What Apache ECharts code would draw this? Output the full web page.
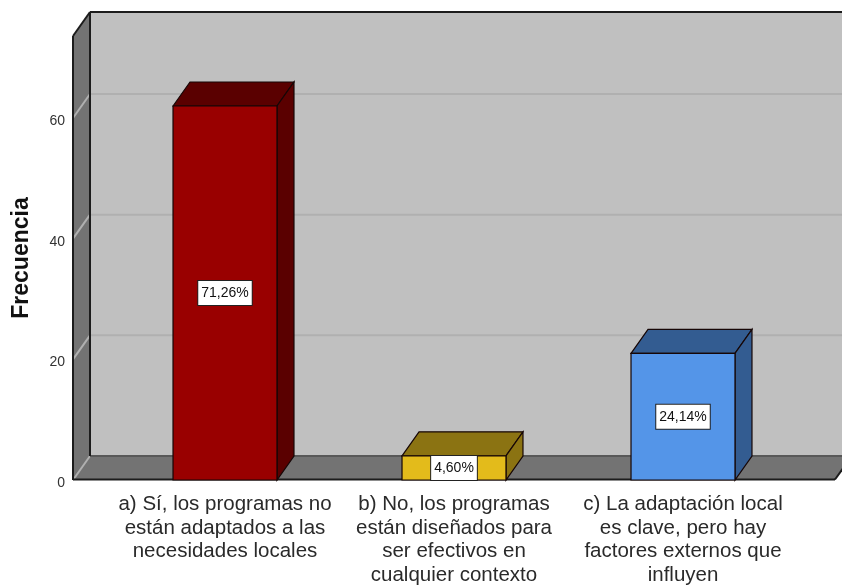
<!DOCTYPE html>
<html>
<head>
<meta charset="utf-8">
<style>html,body{margin:0;padding:0;background:#fff}#c{width:842px;height:586px}</style>
<script src="https://cdn.jsdelivr.net/npm/echarts@6/dist/echarts.min.js"></script>
</head>
<body>
<div id="c"></div>
<script>
const categories = [
  'a) Sí, los programas no\nestán adaptados a las\nnecesidades locales',
  'b) No, los programas\nestán diseñados para\nser efectivos en\ncualquier contexto',
  'c) La adaptación local\nes clave, pero hay\nfactores externos que\ninfluyen'
];
const frequencies = [62, 4, 21];
const percentLabels = ['71,26%', '4,60%', '24,14%'];
const yTicks = [0, 20, 40, 60];
const yMax = 73.6;
const frontColors = ['#990000', '#E3BB1B', '#5495E8'];
const darkColors = ['#5A0000', '#8B7312', '#335C91'];

const DX = 17, DY = -24, PAD = 37.5;
const FF = '"Liberation Sans", Arial, sans-serif';
const chart = echarts.init(document.getElementById('c'), null, {renderer: 'canvas'});

function wall(params, api) {
  const cs = params.coordSys;
  const l = cs.x - PAD, r = cs.x + cs.width + PAD, t = cs.y, b = cs.y + cs.height;
  return {type: 'group', silent: true, children: [
    {type: 'polygon', shape: {points: [[l + DX, t + DY], [r + DX, t + DY], [r + DX, b + DY], [l + DX, b + DY]]},
      style: {fill: '#C0C0C0', stroke: null}},
    {type: 'polygon', shape: {points: [[l, t], [l + DX, t + DY], [l + DX, b + DY], [l, b]]},
      style: {fill: '#737373', stroke: null}},
    {type: 'polygon', shape: {points: [[l, b], [l + DX, b + DY], [r + DX, b + DY], [r, b]]},
      style: {fill: '#737373', stroke: null}}
  ]};
}
function wallEdges(params, api) {
  const cs = params.coordSys;
  const l = cs.x - PAD, r = cs.x + cs.width + PAD, t = cs.y, b = cs.y + cs.height;
  const ink = {stroke: '#1c1c1c', lineWidth: 2, fill: null};
  const seg = (a, c, s) => ({type: 'line', shape: {x1: a[0], y1: a[1], x2: c[0], y2: c[1]}, style: s || ink});
  return {type: 'group', silent: true, children: [
    seg([l + DX, b + DY], [r + DX, b + DY], {stroke: '#585858', lineWidth: 2}),
    seg([l, b], [l, t]), seg([l, t], [l + DX, t + DY]), seg([l + DX, t + DY], [r + DX, t + DY]),
    seg([l + DX, t + DY], [l + DX, b + DY]), seg([l, b - 0.5], [r, b - 0.5]), seg([r, b - 0.5], [r + DX, b + DY])
  ]};
}
function gridLine(params, api) {
  const cs = params.coordSys;
  const l = cs.x - PAD, r = cs.x + cs.width + PAD;
  const y = api.coord([0, api.value(1)])[1];
  const s = {stroke: '#B0B0B0', lineWidth: 2, fill: null};
  return {type: 'group', silent: true, children: [
    {type: 'line', shape: {x1: l, y1: y, x2: l + DX, y2: y + DY}, style: s},
    {type: 'line', shape: {x1: l + DX, y1: y + DY, x2: r + DX, y2: y + DY}, style: s}
  ]};
}
function bar(params, api) {
  const i = api.value(0);
  const top = api.coord([i, api.value(1)]);
  const base = api.coord([i, 0]);
  const half = api.size([1, 0])[0] * 0.227;
  const x0 = top[0] - half, x1 = top[0] + half, y0 = top[1], y1 = base[1];
  const edge = {stroke: '#160606', lineWidth: 1.2};
  return {type: 'group', children: [
    {type: 'polygon', shape: {points: [[x0, y0], [x0 + DX, y0 + DY], [x1 + DX, y0 + DY], [x1, y0]]},
      style: Object.assign({fill: darkColors[i]}, edge)},
    {type: 'polygon', shape: {points: [[x1, y0], [x1 + DX, y0 + DY], [x1 + DX, y1 + DY], [x1, y1]]},
      style: Object.assign({fill: darkColors[i]}, edge)},
    {type: 'rect', shape: {x: x0, y: y0, width: x1 - x0, height: y1 - y0},
      style: Object.assign({fill: frontColors[i]}, edge)},
    {type: 'text', z2: 10, style: {
      x: top[0], y: (y0 + y1) / 2, text: percentLabels[i], align: 'center', verticalAlign: 'middle',
      fontFamily: FF, fontSize: 14, fill: '#111', backgroundColor: '#fff',
      borderColor: '#222', borderWidth: 1, padding: [5, 3, 5, 3]
    }}
  ]};
}

chart.setOption({
  animation: false,
  backgroundColor: '#fff',
  grid: {left: 110.5, width: 687, top: 36, height: 444, containLabel: false, outerBoundsMode: 'none'},
  xAxis: {
    type: 'category', data: categories,
    axisLine: {show: false}, axisTick: {show: false},
    axisLabel: {interval: 0, margin: 13, fontFamily: FF, fontSize: 20.5, lineHeight: 23.5, color: '#2a2a2a', align: 'center'}
  },
  yAxis: {
    type: 'value', min: 0, max: yMax, interval: 20, offset: 37.5,
    axisLine: {show: false}, axisTick: {show: false}, splitLine: {show: false},
    axisLabel: {showMaxLabel: false, margin: 8, fontFamily: FF, fontSize: 14, color: '#333',
      verticalAlign: 'top', lineHeight: 6},
    name: 'Frecuencia', nameLocation: 'middle', nameGap: 40, nameRotate: 90,
    nameTextStyle: {fontFamily: FF, fontSize: 23, fontWeight: 'bold', color: '#111'}
  },
  series: [
    {type: 'custom', z: 1, renderItem: wall, data: [[0, 0]], encode: {x: 0, y: 1}, clip: false, silent: true},
    {type: 'custom', z: 2, renderItem: gridLine, data: yTicks.map(t => [0, t]), encode: {x: 0, y: 1}, clip: false, silent: true},
    {type: 'custom', z: 3, renderItem: wallEdges, data: [[0, 0]], encode: {x: 0, y: 1}, clip: false, silent: true},
    {type: 'custom', z: 4, renderItem: bar, data: frequencies.map((v, i) => [i, v]), encode: {x: 0, y: 1}, clip: false}
  ]
});
</script>
</body>
</html>
